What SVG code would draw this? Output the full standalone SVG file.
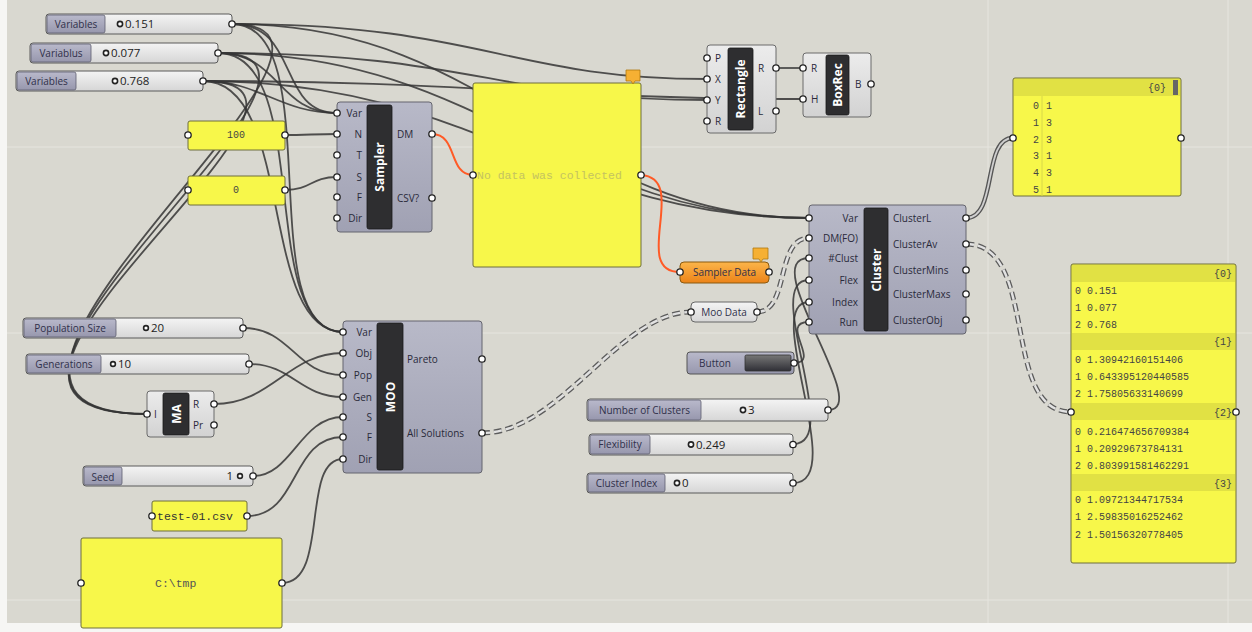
<svg xmlns="http://www.w3.org/2000/svg" width="1252" height="632" viewBox="0 0 1252 632">
<defs>
<linearGradient id="gBody" x1="0" y1="0" x2="0" y2="1"><stop offset="0" stop-color="#b8b9c8"/><stop offset="1" stop-color="#a0a1b3"/></linearGradient>
<linearGradient id="gLight" x1="0" y1="0" x2="0" y2="1"><stop offset="0" stop-color="#ececec"/><stop offset="1" stop-color="#d2d2d2"/></linearGradient>
<linearGradient id="gLab" x1="0" y1="0" x2="0" y2="1"><stop offset="0" stop-color="#b9b9cb"/><stop offset="1" stop-color="#9797ad"/></linearGradient>
<linearGradient id="gVal" x1="0" y1="0" x2="0" y2="1"><stop offset="0" stop-color="#f4f4f4"/><stop offset="1" stop-color="#d6d6d6"/></linearGradient>
<linearGradient id="gOr" x1="0" y1="0" x2="0" y2="1"><stop offset="0" stop-color="#fbb54a"/><stop offset="1" stop-color="#ec8318"/></linearGradient>
<linearGradient id="gBtn" x1="0" y1="0" x2="0" y2="1"><stop offset="0" stop-color="#777"/><stop offset="1" stop-color="#2f2f36"/></linearGradient>
<style>
.w{fill:none;stroke:#353535;stroke-width:1.8;stroke-opacity:0.85}
.wo{fill:none;stroke:#ff5a26;stroke-width:2}
.wd1{fill:none;stroke:#5c5c5c;stroke-width:5;stroke-dasharray:8 4}
.wd2{fill:none;stroke:#e2e2e2;stroke-width:2.4;stroke-dasharray:8 4}
.wl1{fill:none;stroke:#555;stroke-width:4.5}
.wl2{fill:none;stroke:#cfcfcf;stroke-width:1.8}
.body{fill:url(#gBody);stroke:#65656e;stroke-width:1}
.light{fill:url(#gLight);stroke:#6a6a6a;stroke-width:1}
.bar{fill:#2e2e30;stroke:#1a1a1a;stroke-width:0.8}
.title{font-family:"Open Sans","Noto Sans",sans-serif;font-size:12px;font-weight:bold;fill:#fff}
.pl{font-family:"Open Sans","Noto Sans",sans-serif;font-size:10px;fill:#2a2a3a}
.port{fill:#fff;stroke:#222;stroke-width:1.3}
.slab{fill:url(#gLab);stroke:#5e5e6e;stroke-width:0.8}
.sval{fill:url(#gVal);stroke:#5a5a5a;stroke-width:1}
.sl{font-family:"Open Sans","Noto Sans",sans-serif;font-size:10px;fill:#30304a}
.sv{font-family:"Open Sans","Noto Sans",sans-serif;font-size:11.5px;fill:#222}
.grip{fill:#fff;stroke:#222;stroke-width:1.6}
.pan{fill:#f7f74a;stroke:#6e6e3c;stroke-width:1}
.hdr{fill:#e1e144}
.mono{font-family:"Liberation Mono",monospace;font-size:10px;fill:#444}
.tag{fill:#f6b033;stroke:#b07a10;stroke-width:0.8}
.grid{stroke:#e6e5df;stroke-width:1}
</style>
</defs>
<rect x="0" y="0" width="1252" height="632" fill="#f6f6f4"/>
<rect x="7" y="0" width="1245" height="623" fill="#d9d8d0"/>
<g id="grid">
<line class="grid" x1="988" y1="0" x2="988" y2="623"/>
<line class="grid" x1="1228" y1="0" x2="1228" y2="623"/>
<line class="grid" x1="7" y1="147" x2="1252" y2="147"/>
<line class="grid" x1="7" y1="333" x2="1252" y2="333"/>
<line class="grid" x1="7" y1="600" x2="1252" y2="600"/>
</g>
<g id="connectors">
<path class="w" d="M232,24 C300,24 277,113 337,113"/>
<path class="w" d="M218,53 C280,53 277,113 337,113"/>
<path class="w" d="M203,81 C260,81 280,113 337,113"/>
<path class="w" d="M232,24 C330,24 250,332 343,332"/>
<path class="w" d="M218,53 C315,53 255,332 343,332"/>
<path class="w" d="M203,81 C295,81 258,332 343,332"/>
<path class="w" d="M232,24 C420,24 -125,414 147,414"/>
<path class="w" d="M218,53 C405,53 -122,414 147,414"/>
<path class="w" d="M203,81 C393,81 -119,414 147,414"/>
<path class="w" d="M232,24 C500,24 560,218 809,218"/>
<path class="w" d="M218,53 C490,53 560,218 809,218"/>
<path class="w" d="M203,81 C480,81 560,218 809,218"/>
<path class="w" d="M232,24 C480,24 510,79 707,79"/>
<path class="w" d="M218,53 C470,53 500,100 707,100"/>
<path class="w" d="M203,81 C460,81 560,99 803,99"/>
<path class="w" d="M285,135 C305,135 317,134 337,134"/>
<path class="w" d="M285,190 C312,190 310,177 337,177"/>
<path class="wo" d="M432,134 C458,134 448,175 473,175"/>
<path class="wo" d="M641,175 C690,178 630,272 680,272"/>
<path class="w" d="M776,68 C790,68 790,68 803,68"/>
<path class="wl1" d="M966,218 C998,218 982,138 1013,138"/>
<path class="wl2" d="M966,218 C998,218 982,138 1013,138"/>
<path class="wd1" d="M966,244 C1040,244 1000,412 1071,412"/>
<path class="wd2" d="M966,244 C1040,244 1000,412 1071,412"/>
<path class="wd1" d="M482,433 C560,433 620,312 691,312"/>
<path class="wd2" d="M482,433 C560,433 620,312 691,312"/>
<path class="wd1" d="M757,312 C790,312 775,238 809,238"/>
<path class="wd2" d="M757,312 C790,312 775,238 809,238"/>
<path class="w" d="M828,410 C875,410 755,258 809,258"/>
<path class="w" d="M793,444 C845,444 760,280 809,280"/>
<path class="w" d="M793,483 C850,483 760,302 809,302"/>
<path class="w" d="M794,363 C822,363 778,322 809,322"/>
<path class="w" d="M243,328 C292,328 295,375 343,375"/>
<path class="w" d="M249,364 C292,364 300,397 343,397"/>
<path class="w" d="M214,404 C272,404 288,353 343,353"/>
<path class="w" d="M253,476 C292,476 300,417 343,417"/>
<path class="w" d="M247,516 C300,516 290,437 343,437"/>
<path class="w" d="M282,583 C330,583 300,459 343,459"/>
</g>

<g id="slider-var1">
<rect class="sval" x="46" y="14" width="186" height="20" rx="3"/>
<rect class="slab" x="47" y="15" width="58" height="18" rx="2"/>
<text class="sl" x="76" y="27.5" text-anchor="middle">Variables</text>
<circle class="grip" cx="120" cy="24" r="2.6"/>
<text class="sv" x="125" y="28">0.151</text>
<circle class="port" cx="232" cy="24" r="3.2"/>
</g>
<g id="slider-var2">
<rect class="sval" x="30" y="43" width="188" height="20" rx="3"/>
<rect class="slab" x="31" y="44" width="60" height="18" rx="2"/>
<text class="sl" x="61" y="56.5" text-anchor="middle">Variablus</text>
<circle class="grip" cx="106" cy="53" r="2.6"/>
<text class="sv" x="111" y="57">0.077</text>
<circle class="port" cx="218" cy="53" r="3.2"/>
</g>
<g id="slider-var3">
<rect class="sval" x="16" y="71" width="187" height="20" rx="3"/>
<rect class="slab" x="17" y="72" width="59" height="18" rx="2"/>
<text class="sl" x="46.5" y="84.5" text-anchor="middle">Variables</text>
<circle class="grip" cx="115" cy="81" r="2.6"/>
<text class="sv" x="120" y="85">0.768</text>
<circle class="port" cx="203" cy="81" r="3.2"/>
</g>

<g id="panel-100">
<rect class="pan" x="188" y="121" width="97" height="29" rx="2"/>
<text class="mono" x="236" y="138" text-anchor="middle">100</text>
<circle class="port" cx="188" cy="135" r="3.2"/>
<circle class="port" cx="285" cy="135" r="3.2"/>
</g>
<g id="panel-0">
<rect class="pan" x="188" y="176" width="97" height="29" rx="2"/>
<text class="mono" x="236" y="193" text-anchor="middle">0</text>
<circle class="port" cx="188" cy="190" r="3.2"/>
<circle class="port" cx="285" cy="190" r="3.2"/>
</g>

<g id="sampler">
<rect class="body" x="337" y="102" width="95" height="130" rx="3"/>
<rect class="bar" x="367" y="105" width="25" height="124" rx="2"/>
<text class="title" x="379.5" y="167" transform="rotate(-90 379.5 167)" text-anchor="middle" dominant-baseline="central">Sampler</text>
<text class="pl" x="362" y="116.5" text-anchor="end">Var</text>
<text class="pl" x="362" y="137.5" text-anchor="end">N</text>
<text class="pl" x="362" y="158.5" text-anchor="end">T</text>
<text class="pl" x="362" y="180.5" text-anchor="end">S</text>
<text class="pl" x="362" y="200.5" text-anchor="end">F</text>
<text class="pl" x="362" y="221.5" text-anchor="end">Dir</text>
<text class="pl" x="397" y="137.5">DM</text>
<text class="pl" x="397" y="201.5">CSV?</text>
<circle class="port" cx="337" cy="113" r="3.2"/>
<circle class="port" cx="337" cy="134" r="3.2"/>
<circle class="port" cx="337" cy="155" r="3.2"/>
<circle class="port" cx="337" cy="177" r="3.2"/>
<circle class="port" cx="337" cy="197" r="3.2"/>
<circle class="port" cx="337" cy="218" r="3.2"/>
<circle class="port" cx="432" cy="134" r="3.2"/>
<circle class="port" cx="432" cy="198" r="3.2"/>
</g>

<g id="panel-nodata">
<rect class="pan" x="473" y="83" width="168" height="184" rx="2"/>
<text x="477" y="179" font-family="Liberation Mono, monospace" font-size="11.5" fill="#c4c360">No data was collected</text>
<path class="tag" d="M626,70 h14 v11 h-5 l-2,3 l-2,-3 h-5 z"/>
<circle class="port" cx="473" cy="175" r="3.2"/>
<circle class="port" cx="641" cy="175" r="3.2"/>
</g>

<g id="rectangle">
<rect class="light" x="707" y="45" width="69" height="88" rx="3"/>
<rect class="bar" x="728" y="48" width="25" height="82" rx="2"/>
<text class="title" x="740.5" y="89" transform="rotate(-90 740.5 89)" text-anchor="middle" dominant-baseline="central">Rectangle</text>
<text class="pl" x="715" y="61.5">P</text>
<text class="pl" x="715" y="82.5">X</text>
<text class="pl" x="715" y="103.5">Y</text>
<text class="pl" x="715" y="124.5">R</text>
<text class="pl" x="758" y="71.5">R</text>
<text class="pl" x="758" y="114.5">L</text>
<circle class="port" cx="707" cy="58" r="3.2"/>
<circle class="port" cx="707" cy="79" r="3.2"/>
<circle class="port" cx="707" cy="100" r="3.2"/>
<circle class="port" cx="707" cy="121" r="3.2"/>
<circle class="port" cx="776" cy="68" r="3.2"/>
<circle class="port" cx="776" cy="111" r="3.2"/>
</g>

<g id="boxrec">
<rect class="light" x="803" y="53" width="68" height="64" rx="3"/>
<rect class="bar" x="826" y="55" width="23" height="60" rx="2"/>
<text class="title" x="837.5" y="85" transform="rotate(-90 837.5 85)" text-anchor="middle" dominant-baseline="central">BoxRec</text>
<text class="pl" x="811" y="71.5">R</text>
<text class="pl" x="811" y="102.5">H</text>
<text class="pl" x="855" y="87.5">B</text>
<circle class="port" cx="803" cy="68" r="3.2"/>
<circle class="port" cx="803" cy="99" r="3.2"/>
<circle class="port" cx="871" cy="84" r="3.2"/>
</g>

<g id="cluster">
<rect class="body" x="809" y="205" width="157" height="129" rx="3"/>
<rect class="bar" x="864" y="208" width="24" height="123" rx="2"/>
<text class="title" x="876" y="270" transform="rotate(-90 876 270)" text-anchor="middle" dominant-baseline="central">Cluster</text>
<text class="pl" x="858" y="221.5" text-anchor="end">Var</text>
<text class="pl" x="858" y="241.5" text-anchor="end">DM(FO)</text>
<text class="pl" x="858" y="261.5" text-anchor="end">#Clust</text>
<text class="pl" x="858" y="283.5" text-anchor="end">Flex</text>
<text class="pl" x="858" y="305.5" text-anchor="end">Index</text>
<text class="pl" x="858" y="325.5" text-anchor="end">Run</text>
<text class="pl" x="893" y="221.5">ClusterL</text>
<text class="pl" x="893" y="247.5">ClusterAv</text>
<text class="pl" x="893" y="273.5">ClusterMins</text>
<text class="pl" x="893" y="297.5">ClusterMaxs</text>
<text class="pl" x="893" y="323.5">ClusterObj</text>
<circle class="port" cx="809" cy="218" r="3.2"/>
<circle class="port" cx="809" cy="238" r="3.2"/>
<circle class="port" cx="809" cy="258" r="3.2"/>
<circle class="port" cx="809" cy="280" r="3.2"/>
<circle class="port" cx="809" cy="302" r="3.2"/>
<circle class="port" cx="809" cy="322" r="3.2"/>
<circle class="port" cx="966" cy="218" r="3.2"/>
<circle class="port" cx="966" cy="244" r="3.2"/>
<circle class="port" cx="966" cy="270" r="3.2"/>
<circle class="port" cx="966" cy="294" r="3.2"/>
<circle class="port" cx="966" cy="320" r="3.2"/>
</g>

<g id="sampler-data">
<rect x="680" y="262" width="89" height="21" rx="4" fill="url(#gOr)" stroke="#8a5a10" stroke-width="1"/>
<text class="sl" x="724.5" y="276" text-anchor="middle" fill="#402a00">Sampler Data</text>
<path class="tag" d="M753,248 h15 v11 h-5 l-2,3 l-2,-3 h-6 z"/>
<circle class="port" cx="680" cy="272" r="3.2"/>
<circle class="port" cx="769" cy="272" r="3.2"/>
</g>

<g id="moo-data">
<rect x="691" y="302" width="66" height="20" rx="4" fill="url(#gVal)" stroke="#666" stroke-width="1"/>
<text class="sl" x="724" y="315.5" text-anchor="middle">Moo Data</text>
<circle class="port" cx="691" cy="312" r="3.2"/>
<circle class="port" cx="757" cy="312" r="3.2"/>
</g>

<g id="button">
<rect x="687" y="352" width="107" height="22" rx="3" fill="url(#gLab)" stroke="#555" stroke-width="1"/>
<rect x="745" y="355" width="46" height="16" rx="1.5" fill="url(#gBtn)" stroke="#333" stroke-width="0.8"/>
<text class="sl" x="715" y="366.5" text-anchor="middle">Button</text>
<circle class="port" cx="794" cy="363" r="3.2"/>
</g>

<g id="slider-nclusters">
<rect class="sval" x="587" y="399" width="241" height="22" rx="3"/>
<rect class="slab" x="588" y="400" width="113" height="20" rx="2"/>
<text class="sl" x="644.5" y="413.5" text-anchor="middle">Number of Clusters</text>
<circle class="grip" cx="743" cy="410" r="2.6"/>
<text class="sv" x="748" y="414">3</text>
<circle class="port" cx="828" cy="410" r="3.2"/>
</g>
<g id="slider-flex">
<rect class="sval" x="589" y="434" width="204" height="21" rx="3"/>
<rect class="slab" x="590" y="435" width="60" height="19" rx="2"/>
<text class="sl" x="620" y="448" text-anchor="middle">Flexibility</text>
<circle class="grip" cx="691" cy="444.5" r="2.6"/>
<text class="sv" x="696" y="448.5">0.249</text>
<circle class="port" cx="793" cy="444.5" r="3.2"/>
</g>
<g id="slider-index">
<rect class="sval" x="587" y="473" width="206" height="20" rx="3"/>
<rect class="slab" x="588" y="474" width="77" height="18" rx="2"/>
<text class="sl" x="626.5" y="486.5" text-anchor="middle">Cluster Index</text>
<circle class="grip" cx="677" cy="483" r="2.6"/>
<text class="sv" x="682" y="487">0</text>
<circle class="port" cx="793" cy="483" r="3.2"/>
</g>

<g id="panel-clusterl">
<rect class="pan" x="1013" y="78" width="168" height="118" rx="2"/>
<rect class="hdr" x="1014" y="79" width="166" height="17"/>
<text class="mono" x="1166" y="91" text-anchor="end">{0}</text>
<rect x="1173" y="80" width="5" height="15" fill="#666"/>
<line x1="1042" y1="96" x2="1042" y2="196" stroke="#d8d848" stroke-width="1"/>
<g class="mono">
<text x="1033" y="109">0</text><text x="1046" y="109">1</text>
<text x="1033" y="126">1</text><text x="1046" y="126">3</text>
<text x="1033" y="143">2</text><text x="1046" y="143">3</text>
<text x="1033" y="159">3</text><text x="1046" y="159">1</text>
<text x="1033" y="176">4</text><text x="1046" y="176">3</text>
<text x="1033" y="193">5</text><text x="1046" y="193">1</text>
</g>
<circle class="port" cx="1013" cy="138" r="3.2"/>
<circle class="port" cx="1181" cy="138" r="3.2"/>
</g>

<g id="panel-clusterav">
<rect class="pan" x="1071" y="264" width="165" height="299" rx="2"/>
<rect class="hdr" x="1072" y="265" width="163" height="17"/>
<rect class="hdr" x="1072" y="333" width="163" height="17"/>
<rect class="hdr" x="1072" y="403" width="163" height="17"/>
<rect class="hdr" x="1072" y="474" width="163" height="17"/>
<g class="mono">
<text x="1232" y="277" text-anchor="end">{0}</text>
<text x="1075" y="294">0</text><text x="1087" y="294">0.151</text>
<text x="1075" y="311">1</text><text x="1087" y="311">0.077</text>
<text x="1075" y="328">2</text><text x="1087" y="328">0.768</text>
<text x="1232" y="345" text-anchor="end">{1}</text>
<text x="1075" y="363">0</text><text x="1087" y="363">1.30942160151406</text>
<text x="1075" y="380">1</text><text x="1087" y="380">0.643395120440585</text>
<text x="1075" y="397">2</text><text x="1087" y="397">1.75805633140699</text>
<text x="1232" y="416" text-anchor="end">{2}</text>
<text x="1075" y="435">0</text><text x="1087" y="435">0.216474656709384</text>
<text x="1075" y="452">1</text><text x="1087" y="452">0.20929673784131</text>
<text x="1075" y="469">2</text><text x="1087" y="469">0.803991581462291</text>
<text x="1232" y="487" text-anchor="end">{3}</text>
<text x="1075" y="503">0</text><text x="1087" y="503">1.09721344717534</text>
<text x="1075" y="520">1</text><text x="1087" y="520">2.59835016252462</text>
<text x="1075" y="538">2</text><text x="1087" y="538">1.50156320778405</text>
</g>
<circle class="port" cx="1071" cy="412" r="3.2"/>
<circle class="port" cx="1236" cy="412" r="3.2"/>
</g>

<g id="slider-pop">
<rect class="sval" x="23" y="318" width="220" height="20" rx="3"/>
<rect class="slab" x="24" y="319" width="92" height="18" rx="2"/>
<text class="sl" x="70" y="331.5" text-anchor="middle">Population Size</text>
<circle class="grip" cx="146" cy="328" r="2.4"/>
<text class="sv" x="151" y="332">20</text>
<circle class="port" cx="243" cy="328" r="3.2"/>
</g>
<g id="slider-gen">
<rect class="sval" x="26" y="354" width="223" height="20" rx="3"/>
<rect class="slab" x="27" y="355" width="74" height="18" rx="2"/>
<text class="sl" x="64" y="367.5" text-anchor="middle">Generations</text>
<circle class="grip" cx="113" cy="364" r="2.4"/>
<text class="sv" x="118" y="368">10</text>
<circle class="port" cx="249" cy="364" r="3.2"/>
</g>

<g id="ma">
<rect class="light" x="147" y="391" width="67" height="46" rx="3"/>
<rect class="bar" x="163" y="393" width="26" height="42" rx="2"/>
<text class="title" x="176" y="414" transform="rotate(-90 176 414)" text-anchor="middle" dominant-baseline="central">MA</text>
<text class="pl" x="154" y="417.5">I</text>
<text class="pl" x="193" y="407.5">R</text>
<text class="pl" x="193" y="428.5">Pr</text>
<circle class="port" cx="147" cy="414" r="3.2"/>
<circle class="port" cx="214" cy="404" r="3.2"/>
<circle class="port" cx="214" cy="425" r="3.2"/>
</g>

<g id="moo">
<rect class="body" x="343" y="321" width="139" height="152" rx="3"/>
<rect class="bar" x="377" y="323" width="26" height="147" rx="2"/>
<text class="title" x="390" y="397" transform="rotate(-90 390 397)" text-anchor="middle" dominant-baseline="central">MOO</text>
<text class="pl" x="372" y="335.5" text-anchor="end">Var</text>
<text class="pl" x="372" y="356.5" text-anchor="end">Obj</text>
<text class="pl" x="372" y="378.5" text-anchor="end">Pop</text>
<text class="pl" x="372" y="400.5" text-anchor="end">Gen</text>
<text class="pl" x="372" y="420.5" text-anchor="end">S</text>
<text class="pl" x="372" y="440.5" text-anchor="end">F</text>
<text class="pl" x="372" y="462.5" text-anchor="end">Dir</text>
<text class="pl" x="407" y="362.5">Pareto</text>
<text class="pl" x="407" y="436.5">All Solutions</text>
<circle class="port" cx="343" cy="332" r="3.2"/>
<circle class="port" cx="343" cy="353" r="3.2"/>
<circle class="port" cx="343" cy="375" r="3.2"/>
<circle class="port" cx="343" cy="397" r="3.2"/>
<circle class="port" cx="343" cy="417" r="3.2"/>
<circle class="port" cx="343" cy="437" r="3.2"/>
<circle class="port" cx="343" cy="459" r="3.2"/>
<circle class="port" cx="482" cy="359" r="3.2"/>
<circle class="port" cx="482" cy="433" r="3.2"/>
</g>

<g id="slider-seed">
<rect class="sval" x="83" y="466" width="170" height="20" rx="3"/>
<rect class="slab" x="84" y="467" width="38" height="18" rx="2"/>
<text class="sl" x="103" y="480.5" text-anchor="middle">Seed</text>
<text class="sv" x="233" y="480" text-anchor="end">1</text>
<circle class="grip" cx="240" cy="476" r="2.4"/>
<circle class="port" cx="253" cy="476" r="3.2"/>
</g>

<g id="panel-csv">
<rect class="pan" x="152" y="501" width="95" height="30" rx="2"/>
<text x="157" y="520" font-family="Liberation Mono, monospace" font-size="11.5" fill="#333">test-01.csv</text>
<circle class="port" cx="152" cy="516" r="3.2"/>
<circle class="port" cx="247" cy="516" r="3.2"/>
</g>

<g id="panel-dir">
<rect class="pan" x="81" y="538" width="201" height="90" rx="2"/>
<text x="155" y="587" font-family="Liberation Mono, monospace" font-size="11.5" fill="#555">C:\tmp</text>
<circle class="port" cx="81" cy="583" r="3.2"/>
<circle class="port" cx="282" cy="583" r="3.2"/>
</g>
</svg>
